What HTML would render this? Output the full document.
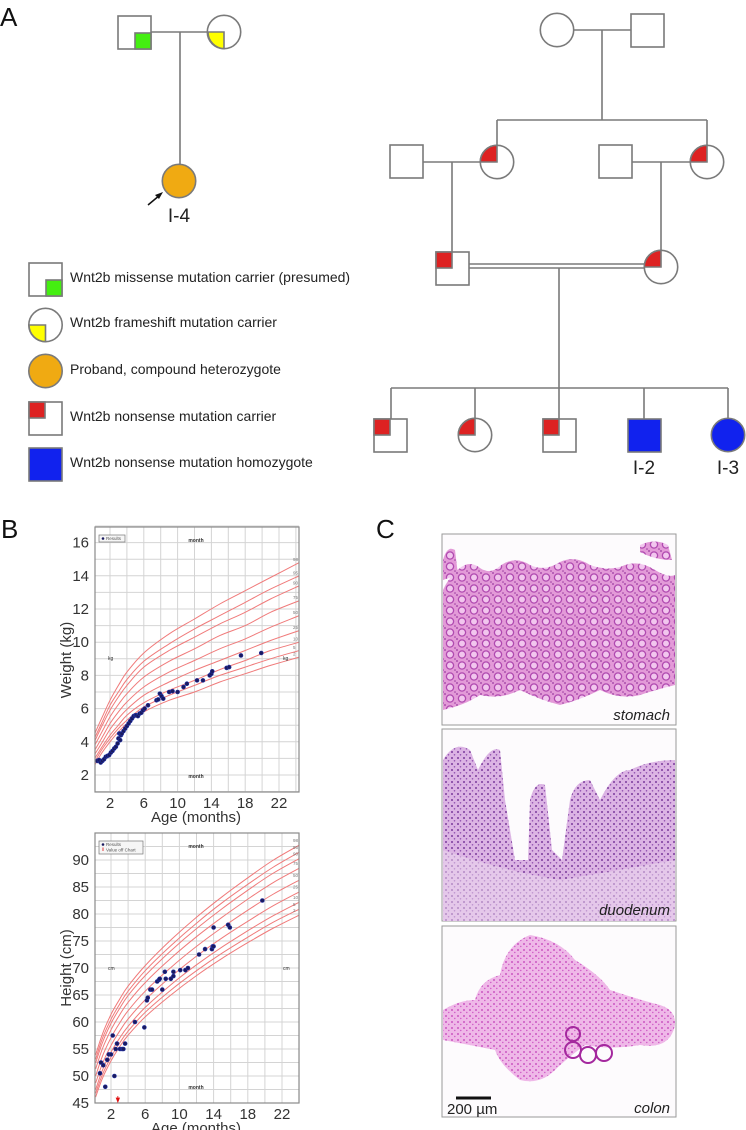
<!DOCTYPE html>
<html><head><meta charset="utf-8">
<style>
html,body{margin:0;padding:0;background:#fff;}
svg{display:block;font-family:"Liberation Sans",sans-serif;}
</style></head>
<body>
<svg id="fig" width="746" height="1130" viewBox="0 0 746 1130" xmlns="http://www.w3.org/2000/svg">
<defs>
  <pattern id="dotsPink" width="12" height="11" patternUnits="userSpaceOnUse">
    <rect width="12" height="11" fill="#e39ad8"/>
    <circle cx="6" cy="5.5" r="3.6" fill="#f2c6ee" stroke="#b04ab0" stroke-width="1.3"/>
    <circle cx="1" cy="1" r="0.9" fill="#9a3aa0"/>
    <circle cx="11" cy="10" r="0.8" fill="#9a3aa0"/>
  </pattern>
  <pattern id="dotsLav" width="6" height="6" patternUnits="userSpaceOnUse">
    <rect width="6" height="6" fill="#dcb4e4"/>
    <circle cx="2" cy="2" r="1" fill="#7a3a9c"/>
    <circle cx="4.5" cy="4.8" r="0.8" fill="#9050b0"/>
  </pattern>
  <pattern id="dotsColon" width="6" height="6" patternUnits="userSpaceOnUse">
    <rect width="6" height="6" fill="#efb8e8"/>
    <circle cx="2" cy="2" r="0.9" fill="#c03ab4"/>
    <circle cx="4.8" cy="4.5" r="0.7" fill="#cc50c2"/>
  </pattern>
  <clipPath id="clipW"><rect x="95" y="527" width="204" height="265"/></clipPath>
  <clipPath id="clipH"><rect x="95" y="833" width="204" height="270"/></clipPath>
</defs>

<!-- Panel A -->
<text x="0" y="26" font-size="26" fill="#111">A</text>
<g stroke="#7a7a7a" stroke-width="1.6" fill="none">
  <line x1="151" y1="32" x2="208" y2="32"/>
  <line x1="180" y1="32" x2="180" y2="165"/>
  <rect x="118" y="16" width="33" height="33" fill="#fff"/>
  <rect x="135" y="33" width="16" height="16" fill="#44ee11"/>
  <circle cx="224" cy="32" r="16.7" fill="#fff"/>
  <path d="M208 32 H224 V48.7 A16.7 16.7 0 0 1 208 32 Z" fill="#ffff00"/>
  <circle cx="179" cy="181" r="16.7" fill="#f0aa12"/>
</g>
<line x1="148" y1="205" x2="160" y2="195" stroke="#111" stroke-width="1.5"/>
<path d="M163 192 L155 195 L159 199 Z" fill="#111"/>
<text x="179" y="222" font-size="19" text-anchor="middle" fill="#222">I-4</text>

<g font-size="14" fill="#222">
  <g stroke="#7a7a7a" stroke-width="1.6">
    <rect x="29" y="263" width="33" height="33" fill="#fff"/>
    <rect x="46" y="280" width="16" height="16" fill="#44ee11"/>
    <circle cx="45.5" cy="325" r="16.7" fill="#fff"/>
    <path d="M29 325 H45.5 V341.7 A16.7 16.7 0 0 1 29 325 Z" fill="#ffff00"/>
    <circle cx="45.5" cy="371" r="16.7" fill="#f0aa12"/>
    <rect x="29" y="402" width="33" height="33" fill="#fff"/>
    <rect x="29" y="402" width="16" height="16" fill="#dd2222"/>
    <rect x="29" y="448" width="33" height="33" fill="#1122ee"/>
  </g>
  <text x="70" y="282">Wnt2b missense mutation carrier (presumed)</text>
  <text x="70" y="327">Wnt2b frameshift mutation carrier</text>
  <text x="70" y="374">Proband, compound heterozygote</text>
  <text x="70" y="421">Wnt2b nonsense mutation carrier</text>
  <text x="70" y="467">Wnt2b nonsense mutation homozygote</text>
</g>

<g stroke="#7a7a7a" stroke-width="1.6" fill="none">
  <line x1="574" y1="30" x2="631" y2="30"/>
  <line x1="602" y1="30" x2="602" y2="120"/>
  <line x1="497" y1="120" x2="707" y2="120"/>
  <line x1="497" y1="120" x2="497" y2="146"/>
  <line x1="707" y1="120" x2="707" y2="146"/>
  <circle cx="557" cy="30" r="16.7" fill="#fff"/>
  <rect x="631" y="14" width="33" height="33" fill="#fff"/>
  <line x1="423" y1="162" x2="481" y2="162"/>
  <line x1="632" y1="162" x2="691" y2="162"/>
  <line x1="452" y1="162" x2="452" y2="252"/>
  <line x1="661" y1="162" x2="661" y2="251"/>
  <rect x="390" y="145" width="33" height="33" fill="#fff"/>
  <circle cx="497" cy="162" r="16.7" fill="#fff"/>
  <path d="M480.3 162 A16.7 16.7 0 0 1 497 145.3 V162 Z" fill="#dd2222"/>
  <rect x="599" y="145" width="33" height="33" fill="#fff"/>
  <circle cx="707" cy="162" r="16.7" fill="#fff"/>
  <path d="M690.3 162 A16.7 16.7 0 0 1 707 145.3 V162 Z" fill="#dd2222"/>
  <line x1="469" y1="264" x2="645" y2="264"/>
  <line x1="469" y1="268" x2="645" y2="268"/>
  <line x1="559" y1="268" x2="559" y2="388"/>
  <line x1="391" y1="388" x2="728" y2="388"/>
  <line x1="391" y1="388" x2="391" y2="419"/>
  <line x1="475" y1="388" x2="475" y2="419"/>
  <line x1="559" y1="388" x2="559" y2="419"/>
  <line x1="644" y1="388" x2="644" y2="419"/>
  <line x1="728" y1="388" x2="728" y2="419"/>
  <rect x="436" y="252" width="33" height="33" fill="#fff"/>
  <rect x="436" y="252" width="16" height="16" fill="#dd2222"/>
  <circle cx="661" cy="267" r="16.7" fill="#fff"/>
  <path d="M644.3 267 A16.7 16.7 0 0 1 661 250.3 V267 Z" fill="#dd2222"/>
  <rect x="374" y="419" width="33" height="33" fill="#fff"/>
  <rect x="374" y="419" width="16" height="16" fill="#dd2222"/>
  <circle cx="475" cy="435" r="16.7" fill="#fff"/>
  <path d="M458.3 435 A16.7 16.7 0 0 1 475 418.3 V435 Z" fill="#dd2222"/>
  <rect x="543" y="419" width="33" height="33" fill="#fff"/>
  <rect x="543" y="419" width="16" height="16" fill="#dd2222"/>
  <rect x="628" y="419" width="33" height="33" fill="#1122ee"/>
  <circle cx="728" cy="435" r="16.7" fill="#1122ee"/>
</g>
<text x="644" y="474" font-size="19" text-anchor="middle" fill="#222">I-2</text>
<text x="728" y="474" font-size="19" text-anchor="middle" fill="#222">I-3</text>

<!-- Panel B -->
<text x="1" y="538" font-size="26" fill="#111">B</text>
<g id="weightChart"></g>
<g id="heightChart"></g>

<!-- Panel C -->
<text x="376" y="538" font-size="26" fill="#111">C</text>
<g>
  <rect x="442" y="534" width="234" height="191" fill="#fdfbfd" stroke="#999" stroke-width="1"/>
  <path d="M443 590 Q450 575 460 568 Q470 560 480 568 Q490 575 500 566 Q515 555 530 565 Q545 572 560 562 Q575 555 590 565 Q610 572 625 565 Q640 560 655 570 Q668 578 675 575 L675 685 Q655 690 640 695 Q620 700 600 690 Q580 700 560 705 Q540 700 520 690 Q500 700 480 695 Q465 705 443 710 Z" fill="url(#dotsPink)"/>
  <path d="M443 560 Q447 545 455 550 L458 575 L443 580 Z" fill="url(#dotsPink)"/>
  <path d="M640 545 Q655 538 668 545 L672 560 Q655 560 640 552 Z" fill="url(#dotsPink)"/>
  <text x="670" y="720" font-size="15" font-style="italic" text-anchor="end" fill="#222">stomach</text>
</g>
<g>
  <rect x="442" y="729" width="234" height="192" fill="#fdfbfd" stroke="#999" stroke-width="1"/>
  <path d="M443 760 Q455 740 470 750 L478 770 Q490 745 500 750 L505 800 L515 860 L528 860 L530 800 Q535 780 545 785 L552 850 L562 860 L570 800 Q575 780 590 780 L600 800 Q615 770 630 770 Q650 760 675 760 L675 921 L443 921 Z" fill="url(#dotsLav)"/>
  <path d="M443 850 L443 921 L675 921 L675 860 Q620 870 560 880 Q500 870 443 850 Z" fill="#eedcf0" opacity="0.5"/>
  <text x="670" y="915" font-size="15" font-style="italic" text-anchor="end" fill="#222">duodenum</text>
</g>
<g>
  <rect x="442" y="926" width="234" height="191" fill="#fdfbfd" stroke="#999" stroke-width="1"/>
  <path d="M443 1010 Q460 1000 475 1000 Q480 980 500 975 Q505 945 530 935 Q560 940 575 960 Q600 975 610 990 Q640 1000 660 1005 Q676 1010 675 1025 Q670 1050 640 1045 Q610 1050 585 1045 Q565 1060 555 1070 Q540 1085 520 1080 Q500 1065 495 1050 Q470 1045 443 1040 Z" fill="url(#dotsColon)"/>
  <circle cx="573" cy="1050" r="8" fill="none" stroke="#a4289e" stroke-width="2"/>
  <circle cx="588" cy="1055" r="8" fill="none" stroke="#a4289e" stroke-width="2"/>
  <circle cx="604" cy="1053" r="8" fill="none" stroke="#a4289e" stroke-width="2"/>
  <circle cx="573" cy="1034" r="7" fill="none" stroke="#a4289e" stroke-width="2"/>
  <line x1="456" y1="1098" x2="491" y2="1098" stroke="#111" stroke-width="3"/>
  <text x="447" y="1114" font-size="15" fill="#222">200 µm</text>
  <text x="670" y="1113" font-size="15" font-style="italic" text-anchor="end" fill="#222">colon</text>
</g>
</svg>

<script>
// ---- Shared chart data ----
const curveAges = [0.2, 1, 2, 3, 4, 6, 9, 12, 15, 18, 21, 24.4];
const pctLabels = ["2", "5", "10", "25", "50", "75", "90", "95", "98"];
const ageTicks = [2, 6, 10, 14, 18, 22];
// Weight chart
const weightTicks = [2, 4, 6, 8, 10, 12, 14, 16];
const weightP2  = [2.6, 3.3, 4.0, 4.6, 5.1, 5.8, 6.5, 7.0, 7.6, 8.1, 8.6, 9.1];
const weightP5  = [2.8, 3.5, 4.2, 4.8, 5.3, 6.1, 6.8, 7.4, 8.0, 8.5, 9.0, 9.5];
const weightP10 = [3.0, 3.65, 4.4, 5.0, 5.6, 6.35, 7.1, 7.7, 8.35, 8.9, 9.5, 10.0];
const weightP25 = [3.25, 3.9, 4.75, 5.4, 5.95, 6.8, 7.6, 8.3, 8.9, 9.5, 10.1, 10.7];
const weightP50 = [3.5, 4.2, 5.1, 5.8, 6.4, 7.3, 8.2, 8.9, 9.6, 10.2, 10.9, 11.6];
const weightP75 = [3.8, 4.55, 5.5, 6.25, 6.9, 7.9, 8.85, 9.6, 10.4, 11.0, 11.8, 12.5];
const weightP90 = [4.05, 4.9, 5.9, 6.7, 7.4, 8.5, 9.5, 10.3, 11.1, 11.8, 12.6, 13.4];
const weightP95 = [4.25, 5.1, 6.2, 7.0, 7.75, 8.85, 9.9, 10.8, 11.6, 12.4, 13.2, 14.0];
const weightP98 = [4.5, 5.4, 6.5, 7.4, 8.2, 9.35, 10.5, 11.4, 12.3, 13.1, 13.9, 14.8];
const weightAges = [0.5,0.7,0.9,1.1,1.3,1.5,1.7,1.9,2.1,2.3,2.5,2.7,2.9,3.0,3.1,3.2,3.2,3.3,3.4,3.6,3.8,4.0,4.2,4.4,4.6,4.8,5.0,5.1,5.3,5.5,5.7,5.9,6.1,6.5,7.5,7.7,7.9,8.1,8.3,9.0,9.4,10.0,10.7,11.1,12.3,13.0,13.8,14.0,14.1,15.8,16.1,17.5,19.9];
const weightVals = [2.85,2.9,2.75,2.85,2.95,3.1,3.15,3.2,3.35,3.45,3.6,3.7,3.9,4.2,4.5,4.1,4.5,4.4,4.5,4.65,4.8,4.95,5.1,5.25,5.4,5.55,5.6,5.6,5.55,5.7,5.75,5.9,6.0,6.2,6.5,6.55,6.9,6.75,6.6,7.0,7.05,7.0,7.3,7.5,7.7,7.7,8.0,8.1,8.25,8.45,8.5,9.2,9.35];
// Height chart
const heightTicks = [45, 50, 55, 60, 65, 70, 75, 80, 85, 90];
const heightP2  = [46.1, 49.6, 52.8, 55.4, 57.55, 60.95, 65.0, 68.6, 71.8, 74.7, 77.4, 80.1];
const heightP5  = [46.8, 50.3, 53.5, 56.1, 58.3, 61.8, 65.9, 69.5, 72.75, 75.7, 78.5, 81.2];
const heightP10 = [47.5, 51.1, 54.4, 57.0, 59.2, 62.7, 66.9, 70.6, 73.9, 76.9, 79.7, 82.5];
const heightP25 = [48.7, 52.3, 55.65, 58.3, 60.55, 64.1, 68.4, 72.2, 75.6, 78.65, 81.55, 84.4];
const heightP50 = [50.0, 53.7, 57.1, 59.8, 62.1, 65.7, 70.1, 74.0, 77.5, 80.7, 83.7, 86.6];
const heightP75 = [51.3, 55.1, 58.55, 61.3, 63.65, 67.3, 71.8, 75.8, 79.4, 82.75, 85.85, 88.8];
const heightP90 = [52.4, 56.2, 59.75, 62.5, 64.9, 68.6, 73.2, 77.3, 81.0, 84.4, 87.6, 90.6];
const heightP95 = [53.1, 57.0, 60.5, 63.3, 65.7, 69.5, 74.15, 78.3, 82.1, 85.5, 88.7, 91.8];
const heightP98 = [53.9, 57.8, 61.4, 64.2, 66.65, 70.45, 75.2, 79.4, 83.2, 86.7, 90.0, 93.1];
const heightAges = [0.71,0.83,1.1,1.33,1.56,1.75,2.0,2.2,2.4,2.55,2.7,3.05,3.3,3.45,3.65,4.8,5.9,6.2,6.3,6.6,6.8,7.4,7.6,7.7,8.0,8.3,8.4,9.0,9.3,9.3,10.1,10.7,11.0,12.3,13.0,13.8,13.9,14.0,14.0,15.7,15.9,19.7];
const heightVals = [50.5,52.5,52.0,48.0,53.0,54.0,54.0,57.5,50.0,55.0,56.0,55.0,55.0,55.0,56.0,60.0,59.0,64.0,64.5,66.0,66.0,67.5,67.8,68.0,66.0,69.3,68.0,68.0,68.5,69.3,69.6,69.6,70.0,72.5,73.5,73.5,74.0,74.0,77.5,78.0,77.5,82.5];
const offChartAges = [2.8];

const NS = "http://www.w3.org/2000/svg";
function mk(tag, attrs, parent) {
  const e = document.createElementNS(NS, tag);
  for (const k in attrs) e.setAttribute(k, attrs[k]);
  parent.appendChild(e);
  return e;
}
function smoothPath(pts) {
  let d = "M" + pts[0][0].toFixed(1) + " " + pts[0][1].toFixed(1);
  for (let i = 0; i < pts.length - 1; i++) {
    const p0 = pts[i - 1] || pts[i], p1 = pts[i], p2 = pts[i + 1], p3 = pts[i + 2] || p2;
    const c1x = p1[0] + (p2[0] - p0[0]) / 6, c1y = p1[1] + (p2[1] - p0[1]) / 6;
    const c2x = p2[0] - (p3[0] - p1[0]) / 6, c2y = p2[1] - (p3[1] - p1[1]) / 6;
    d += " C" + c1x.toFixed(1) + " " + c1y.toFixed(1) + " " + c2x.toFixed(1) + " " + c2y.toFixed(1) + " " + p2[0].toFixed(1) + " " + p2[1].toFixed(1);
  }
  return d;
}

function buildChart(cfg) {
  const g = document.getElementById(cfg.id);
  const L = 95, R = 299, T = cfg.top, B = cfg.bottom;
  mk("rect", {x: L, y: T, width: R - L, height: B - T, fill: "#fff"}, g);
  for (let a = 2; a <= 24; a += 2) {
    const gl = mk("line", {x1: cfg.x(a), x2: cfg.x(a), y1: T, y2: B, stroke: "#d4d4d4", "stroke-width": 1}, g);
    
    
  }
  for (let v = cfg.gridStart; v <= cfg.gridEnd; v += cfg.gridStep) {
    const gl = mk("line", {x1: L, x2: R, y1: cfg.y(v), y2: cfg.y(v), stroke: "#d4d4d4", "stroke-width": 1}, g);
    
    
  }
  const cg = mk("g", {"clip-path": "url(#" + cfg.clip + ")"}, g);
  cfg.curves.forEach((vals, i) => {
    const pts = curveAges.map((a, j) => [cfg.x(a), cfg.y(vals[j])]);
    const p = mk("path", {d: smoothPath(pts), fill: "none", stroke: "#f07a7a", "stroke-width": 1}, cg);
    
    
    const t = mk("text", {x: 293, y: cfg.y(vals[vals.length - 1]) - 1.5, "font-size": 4.5, fill: "#777"}, g);
    t.textContent = pctLabels[i];
    
    
  });
  cfg.ages.forEach((a, i) => {
    const c = mk("circle", {cx: cfg.x(a), cy: cfg.y(cfg.vals[i]), r: cfg.r, fill: "#1a1a5e", stroke: "#2233aa", "stroke-width": 0.6}, cg);
    
    
  });
  const bd = mk("rect", {x: L, y: T, width: R - L, height: B - T, fill: "none", stroke: "#8a8a8a", "stroke-width": 1.2}, g);
  
  
  cfg.yTicks.forEach(v => {
    const t = mk("text", {x: 89, y: cfg.y(v) + 5, "font-size": 15, "text-anchor": "end", fill: "#333"}, g);
    t.textContent = v;
    
    
  });
  ageTicks.forEach(a => {
    const t = mk("text", {x: cfg.x(a), y: B + 16, "font-size": 15, "text-anchor": "middle", fill: "#333"}, g);
    t.textContent = a;
    
    
  });
  const xt = mk("text", {x: 196, y: B + 30, "font-size": 15, "text-anchor": "middle", fill: "#333"}, g);
  xt.textContent = "Age (months)";
  
  
  const yt = mk("text", {x: 0, y: 0, "font-size": 15, "text-anchor": "middle", fill: "#333", transform: "translate(71," + cfg.yTitleY + ") rotate(-90)"}, g);
  yt.textContent = cfg.yTitle;
  
  
  const m1 = mk("text", {x: 196, y: T + 15, "font-size": 5, "font-weight": "bold", "text-anchor": "middle", fill: "#333"}, g);
  m1.textContent = "month";
  
  
  const m2 = mk("text", {x: 196, y: B - 14, "font-size": 5, "font-weight": "bold", "text-anchor": "middle", fill: "#333"}, g);
  m2.textContent = "month";
  
  
  const u1 = mk("text", {x: 108, y: cfg.unitY, "font-size": 5, fill: "#333"}, g);
  u1.textContent = cfg.unit;
  
  
  const u2 = mk("text", {x: 283, y: cfg.unitY, "font-size": 5, fill: "#333"}, g);
  u2.textContent = cfg.unit;
  
  
  const lg = mk("g", {}, g);
  
  
  mk("rect", {x: 99, y: T + 8, width: cfg.legendW, height: cfg.legendH, fill: "#f6f6f6", stroke: "#777", "stroke-width": 0.7}, lg);
  mk("circle", {cx: 103, cy: T + 11.5, r: 1.3, fill: "#1a1a5e"}, lg);
  const lt = mk("text", {x: 106, y: T + 13, "font-size": 4.5, fill: "#555"}, lg);
  lt.textContent = "Results";
  if (cfg.offChart) {
    mk("line", {x1: 103, x2: 103, y1: T + 14.5, y2: T + 18, stroke: "#e01010", "stroke-width": 0.8}, lg);
    const lt2 = mk("text", {x: 106, y: T + 18.5, "font-size": 4.5, fill: "#555"}, lg);
    lt2.textContent = "Value off Chart";
    offChartAges.forEach(a => {
      const ar = mk("path", {d: "M" + cfg.x(a) + " " + (B - 1) + " l-1.6 -4 h3.2 Z M" + cfg.x(a) + " " + (B - 4) + " v-3", fill: "#e01010", stroke: "#e01010", "stroke-width": 0.8}, g);
      
      
    });
  }
}

buildChart({
  id: "weightChart", clip: "clipW", top: 527, bottom: 792,
  x: a => 93.1 + a * 8.45, y: v => 775 - (v - 2) * 16.6,
  gridStart: 1, gridEnd: 17, gridStep: 1,
  curves: [weightP2, weightP5, weightP10, weightP25, weightP50, weightP75, weightP90, weightP95, weightP98],
  ages: weightAges, vals: weightVals, r: 2,
  yTicks: weightTicks, yTitle: "Weight (kg)", yTitleY: 660,
  unit: "kg", unitY: 660, legendW: 26, legendH: 7, offChart: false
});
buildChart({
  id: "heightChart", clip: "clipH", top: 833, bottom: 1103,
  x: a => 93.9 + a * 8.55, y: v => 1103 - (v - 45) * 5.4,
  gridStart: 45, gridEnd: 95, gridStep: 2.5,
  curves: [heightP2, heightP5, heightP10, heightP25, heightP50, heightP75, heightP90, heightP95, heightP98],
  ages: heightAges, vals: heightVals, r: 2,
  yTicks: heightTicks, yTitle: "Height (cm)", yTitleY: 968,
  unit: "cm", unitY: 970, legendW: 44, legendH: 13, offChart: true
});
</script>
</body></html>
